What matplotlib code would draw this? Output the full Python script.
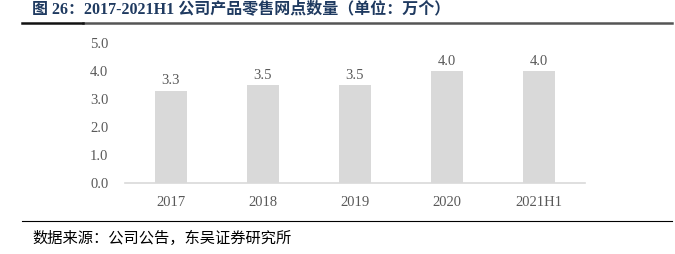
import matplotlib
matplotlib.use("Agg")
import matplotlib.pyplot as plt
from matplotlib.lines import Line2D

# data
categories = ["2017", "2018", "2019", "2020", "2021H1"]
outlets = [3.3, 3.5, 3.5, 4.0, 4.0]
yticks = [0.0, 1.0, 2.0, 3.0, 4.0, 5.0]

title = "图 26：2017-2021H1 公司产品零售网点数量（单位：万个）"
source = "数据来源：公司公告，东吴证券研究所"

serif = ["Liberation Serif", "Noto Sans CJK SC"]
W, H = 675, 254

fig = plt.figure(figsize=(W / 100, H / 100), dpi=100)
ax = fig.add_axes([125 / W, 1 - 183 / H, 460 / W, 140 / H])

x = range(len(categories))
bars = ax.bar(x, outlets, width=0.34, color="#D9D9D9", zorder=2)
for xi, v in zip(x, outlets):
    ax.text(xi, v + 0.12, f"{v:.1f}", ha="center", va="bottom",
            fontsize=10.5, color="#595959", family=serif)

ax.set_xlim(-0.5, len(categories) - 0.5)
ax.set_ylim(0, 5)
ax.set_yticks(yticks)
ax.set_yticklabels([f"{t:.1f}" for t in yticks], family=serif, fontsize=10.5, color="#595959")
ax.set_xticks(list(x))
ax.set_xticklabels(categories, family=serif, fontsize=10.5, color="#595959")
ax.tick_params(axis="both", length=0)
ax.tick_params(axis="x", pad=9)
ax.tick_params(axis="y", pad=12)
for s in ["top", "right", "left"]:
    ax.spines[s].set_visible(False)
ax.spines["bottom"].set_color("#D9D9D9")
ax.spines["bottom"].set_linewidth(1.2)

# title and rules
fig.text(32 / W, 1 - 9 / H, title, ha="left", va="center", fontsize=11.5,
         fontweight="bold", color="#1F3A60", family=serif)
fig.add_artist(Line2D([83 / W, 672 / W], [1 - 23 / H, 1 - 23 / H],
                      color="#555555", linewidth=1.8, transform=fig.transFigure))
fig.add_artist(Line2D([22 / W, 83 / W], [1 - 23 / H, 1 - 23 / H],
                      color="#111111", linewidth=1.8, transform=fig.transFigure))
fig.add_artist(Line2D([22 / W, 672 / W], [1 - 221 / H, 1 - 221 / H],
                      color="#000000", linewidth=0.8, transform=fig.transFigure))
fig.text(32 / W, 1 - 238 / H, source, ha="left", va="center", fontsize=11,
         color="#000000", family=serif)

fig.savefig("out.png", dpi=100)
